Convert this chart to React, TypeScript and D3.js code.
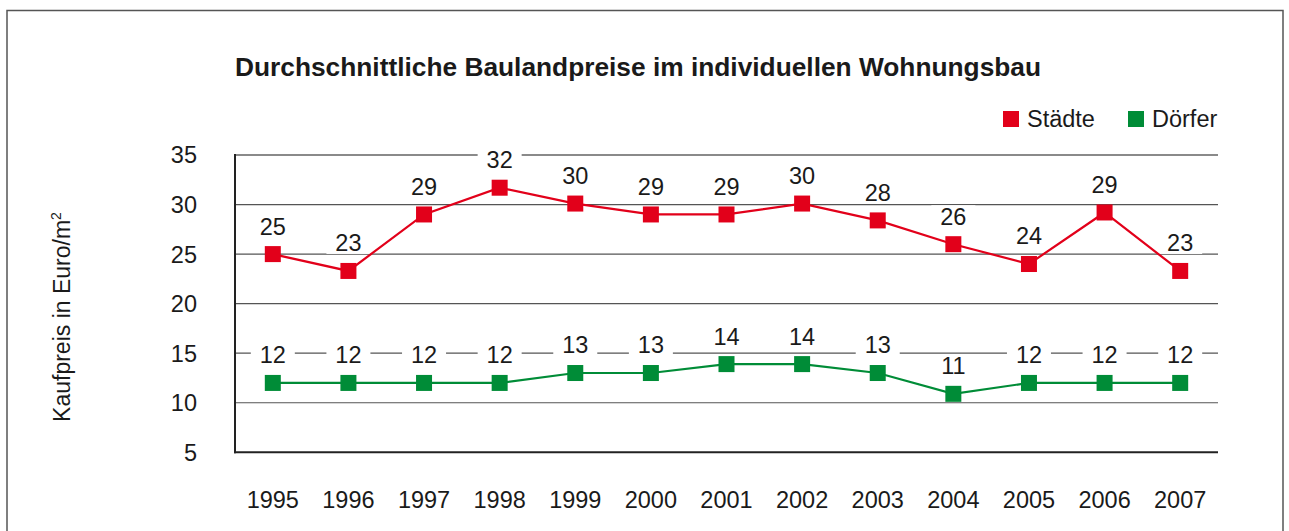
import React from 'react';
import * as d3 from 'd3';

// chart data
const years = ['1995', '1996', '1997', '1998', '1999', '2000', '2001', '2002', '2003', '2004', '2005', '2006', '2007'];
const staedte = [25.0, 23.3, 29.0, 31.7, 30.1, 29.0, 29.0, 30.1, 28.4, 26.0, 24.0, 29.2, 23.3];
const staedteLabels = ['25', '23', '29', '32', '30', '29', '29', '30', '28', '26', '24', '29', '23'];
const doerfer = [12.0, 12.0, 12.0, 12.0, 13.0, 13.0, 13.9, 13.9, 13.0, 10.9, 12.0, 12.0, 12.0];
const doerferLabels = ['12', '12', '12', '12', '13', '13', '14', '14', '13', '11', '12', '12', '12'];
const yTicks = [5, 10, 15, 20, 25, 30, 35];

const RED = '#e2001a';
const GREEN = '#008c37';
const FONT = '"Liberation Sans", Arial, Helvetica, sans-serif';

export default function App() {
  const width = 1289, height = 531;
  const left = 235, right = 1218, top = 155, bottom = 452.3;

  const x = d3.scalePoint<string>().domain(years).range([left, right]).padding(0.5);
  const y = d3.scaleLinear().domain([5, 35]).range([bottom, top]);

  const line = d3.line<number>()
    .x((d, i) => x(years[i]) as number)
    .y(d => y(d));

  const series = [
    { name: 'Städte', values: staedte, labels: staedteLabels, color: RED },
    { name: 'Dörfer', values: doerfer, labels: doerferLabels, color: GREEN },
  ];

  return (
    <svg width={width} height={height} style={{ position: 'absolute', left: 0, top: 0, background: '#fff' }}
      fontFamily={FONT}>
      {/* frame */}
      <rect x={7} y={10.5} width={1276} height={560} fill="none" stroke="#555" strokeWidth={1.5} />

      {/* title */}
      <text x={235} y={76} fontSize={26.3} fontWeight="bold" fill="#1a1a1a">
        Durchschnittliche Baulandpreise im individuellen Wohnungsbau
      </text>

      {/* legend */}
      {series.map((s, i) => (
        <g key={s.name} transform={`translate(${i === 0 ? 1003 : 1128},111)`}>
          <rect width={16} height={16} fill={s.color} />
          <text x={24} y={16} fontSize={23.5} fill="#1a1a1a">{s.name}</text>
        </g>
      ))}

      {/* gridlines */}
      {yTicks.filter(t => t > 5).map(t => (
        <line key={t} x1={left} x2={right} y1={y(t)} y2={y(t)}
          stroke={t === 35 ? '#8a8a8a' : '#555'} strokeWidth={t === 35 ? 2 : 1.2} />
      ))}

      {/* y tick labels */}
      {yTicks.map(t => (
        <text key={t} x={197} y={y(t)} dy="0.36em" textAnchor="end" fontSize={23.5} fill="#1a1a1a">{t}</text>
      ))}

      {/* y axis title */}
      <text transform={`translate(70,317) rotate(-90)`} textAnchor="middle" fontSize={23} fill="#1a1a1a">
        Kaufpreis in Euro/m<tspan fontSize={14} dy={-9}>2</tspan>
      </text>

      {/* x labels */}
      {years.map(yr => (
        <text key={yr} x={x(yr)} y={508} textAnchor="middle" fontSize={23.5} fill="#1a1a1a">{yr}</text>
      ))}

      {/* label backgrounds */}
      {series.map(s => s.values.map((v, i) => (
        <rect key={s.name + i} x={(x(years[i]) as number) - 22} y={y(v) - 39} width={44} height={22} fill="#fff" />
      )))}

      {/* axes */}
      <line x1={left} x2={left} y1={top - 1} y2={bottom + 1} stroke="#222" strokeWidth={2} />
      <line x1={left - 1} x2={right} y1={bottom} y2={bottom} stroke="#222" strokeWidth={2} />

      {/* series */}
      {series.map(s => (
        <g key={s.name}>
          <path d={line(s.values) || ''} fill="none" stroke={s.color} strokeWidth={2.2} />
          {s.values.map((v, i) => (
            <rect key={i} x={(x(years[i]) as number) - 8} y={y(v) - 8} width={16} height={16} fill={s.color} />
          ))}
          {s.values.map((v, i) => (
            <text key={'t' + i} x={x(years[i])} y={y(v) - 28} dy="0.36em" textAnchor="middle" fontSize={23.5} fill="#1a1a1a">
              {s.labels[i]}
            </text>
          ))}
        </g>
      ))}
    </svg>
  );
}
